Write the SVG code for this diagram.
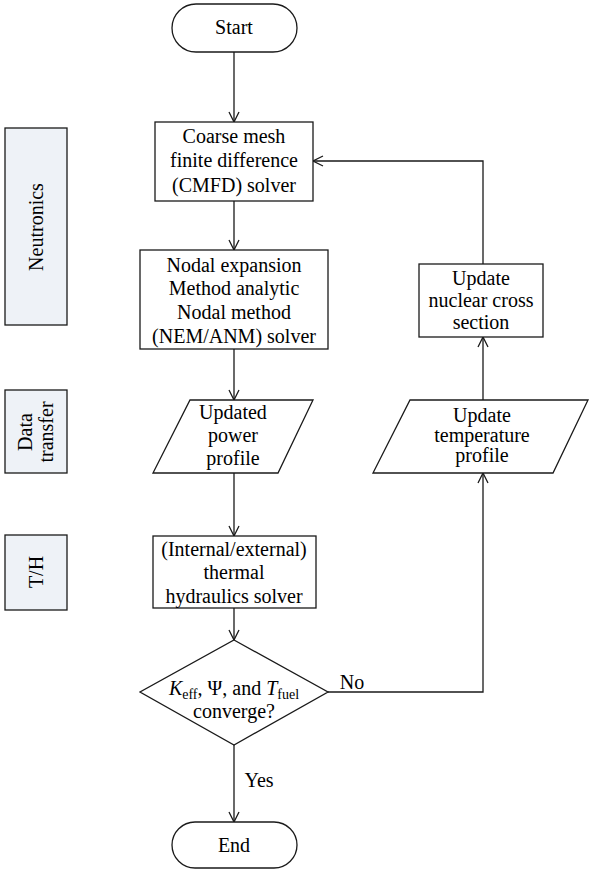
<svg xmlns="http://www.w3.org/2000/svg" width="592" height="878" viewBox="0 0 592 878">
<style>
text{font-family:"Liberation Serif","Times New Roman",serif;font-size:20px;fill:#000;text-anchor:middle}
.n{fill:#fff;stroke:#1a1a1a;stroke-width:1.3}
.lab{fill:#eef2f7;stroke:#1a1a1a;stroke-width:1.3}
.c{fill:none;stroke:#1a1a1a;stroke-width:1.3}
</style>
<defs>
<marker id="a" viewBox="0 0 12 12" refX="11" refY="6" markerWidth="12" markerHeight="12" markerUnits="userSpaceOnUse" orient="auto">
<path d="M1,1 L11,6 L1,11" fill="none" stroke="#1a1a1a" stroke-width="1.3"/>
</marker>
</defs>
<rect width="592" height="878" fill="#fff"/>
<g id="labels">
<g id="lab-neutronics"><rect class="lab" x="5" y="128" width="62" height="197"/><text transform="translate(43,227) rotate(-90)">Neutronics</text></g>
<g id="lab-data"><rect class="lab" x="5" y="390" width="62" height="83"/><text transform="translate(32,432) rotate(-90)">Data</text><text transform="translate(53,432) rotate(-90)">transfer</text></g>
<g id="lab-th"><rect class="lab" x="5" y="535" width="62" height="75"/><text transform="translate(43,572) rotate(-90)">T/H</text></g>
</g>
<g id="connectors">
<line class="c" x1="234" y1="52" x2="234" y2="122" marker-end="url(#a)"/>
<line class="c" x1="234" y1="201" x2="234" y2="250" marker-end="url(#a)"/>
<line class="c" x1="234" y1="349" x2="234" y2="400" marker-end="url(#a)"/>
<line class="c" x1="234" y1="473" x2="234" y2="536" marker-end="url(#a)"/>
<line class="c" x1="234" y1="608" x2="234" y2="640" marker-end="url(#a)"/>
<line class="c" x1="234" y1="745" x2="234" y2="822" marker-end="url(#a)"/>
<polyline class="c" points="328,692 483,692 483,473" marker-end="url(#a)"/>
<line class="c" x1="483" y1="400" x2="483" y2="337" marker-end="url(#a)"/>
<polyline class="c" points="483,264 483,161 313,161" marker-end="url(#a)"/>
<text x="352" y="689">No</text>
<text x="259" y="787">Yes</text>
</g>
<g id="start"><rect class="n" x="172" y="4" width="125" height="48" rx="24"/><text x="234" y="34">Start</text></g>
<g id="cmfd"><rect class="n" x="155" y="122" width="158" height="79"/><text x="234" y="143">Coarse mesh</text><text x="234" y="167">finite difference</text><text x="234" y="192">(CMFD) solver</text></g>
<g id="nem"><rect class="n" x="140" y="250" width="188" height="99"/><text x="234" y="272">Nodal expansion</text><text x="234" y="295">Method analytic</text><text x="234" y="319">Nodal method</text><text x="234" y="343">(NEM/ANM) solver</text></g>
<g id="power"><polygon class="n" points="190,400 313,400 278,473 153,473"/><text x="233" y="419">Updated</text><text x="233" y="442">power</text><text x="233" y="465">profile</text></g>
<g id="th"><rect class="n" x="153" y="536" width="163" height="72"/><text x="234" y="556">(Internal/external)</text><text x="234" y="579">thermal</text><text x="234" y="603">hydraulics solver</text></g>
<g id="converge"><polygon class="n" points="234,640 328,692 234,745 140,692"/><text x="234" y="695"><tspan font-style="italic">K</tspan><tspan font-size="14" dy="4">eff</tspan><tspan dy="-4">, Ψ, and </tspan><tspan font-style="italic">T</tspan><tspan font-size="14" dy="4">fuel</tspan></text><text x="234" y="718">converge?</text></g>
<g id="end"><rect class="n" x="172" y="822" width="125" height="46" rx="23"/><text x="234" y="852">End</text></g>
<g id="temp"><polygon class="n" points="410,400 588,400 553,473 373,473"/><text x="482" y="422">Update</text><text x="482" y="442">temperature</text><text x="482" y="462">profile</text></g>
<g id="xs"><rect class="n" x="419" y="264" width="124" height="73"/><text x="481" y="285">Update</text><text x="481" y="307">nuclear cross</text><text x="481" y="329">section</text></g>
</svg>
